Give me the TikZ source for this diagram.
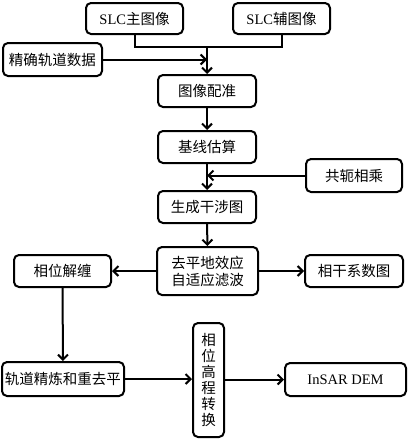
\documentclass[tikz,border=0pt]{standalone}
\usepackage{fontspec}
\setmainfont{Liberation Serif}
\newfontfamily\cjk{Noto Sans CJK SC}
\usetikzlibrary{arrows.meta}
\begin{document}
\begin{tikzpicture}[x=1pt,y=-1pt,
  box/.style={draw=black, line width=2pt, rounded corners=5pt, fill=white,
    inner sep=0pt, align=center, font=\fontsize{14.5}{17}\selectfont},
  arr/.style={line width=2pt, -{Straight Barb[length=5pt,width=10pt,line width=2pt]}},
  ln/.style={line width=2pt}]
\useasboundingbox[fill=white] (0,0) rectangle (407,439);
\node[box, minimum width=97pt, minimum height=31pt] (m) at (134.5,18.5) {SLC\cjk 主图像};
\node[box, minimum width=97pt, minimum height=31pt] (s) at (281.5,18.5) {SLC\cjk 辅图像};
\node[box, minimum width=99pt, minimum height=33pt] (orb) at (52.5,59.5) {\cjk 精确轨道数据};
\node[box, minimum width=98pt, minimum height=32pt] (reg) at (207,91) {\cjk 图像配准};
\node[box, minimum width=98pt, minimum height=32pt] (base) at (207,147) {\cjk 基线估算};
\node[box, minimum width=96pt, minimum height=33pt] (conj) at (354,175.5) {\cjk 共轭相乘};
\node[box, minimum width=98pt, minimum height=32pt] (ifg) at (207,207) {\cjk 生成干涉图};
\node[box, minimum width=101pt, minimum height=48pt] (flat) at (207.5,271) {\cjk 去平地效应\\\cjk 自适应滤波};
\node[box, minimum width=97pt, minimum height=32pt] (unw) at (62.5,271) {\cjk 相位解缠};
\node[box, minimum width=98pt, minimum height=32pt] (coh) at (354,271) {\cjk 相干系数图};
\node[box, minimum width=122pt, minimum height=34pt] (ref) at (63,379) {\cjk 轨道精炼和重去平};
\node[box, minimum width=31pt, minimum height=114pt, font=\fontsize{14.5}{16}\selectfont] (conv) at (208.5,380) {\cjk 相\\\cjk 位\\\cjk 高\\\cjk 程\\\cjk 转\\\cjk 换};
\node[box, minimum width=121pt, minimum height=33pt] (dem) at (345.5,379.5) {InSAR DEM};
\coordinate (j) at (207,47);
\draw[ln] (m.south) |- (j) -| (s.south);
\draw[arr] (j) -- (reg.north);
\draw[arr] (orb.east) -- (reg.north |- orb.east);
\draw[arr] (reg.south) -- (base.north);
\draw[arr] (conj.west) -- (base.south |- conj.west);
\draw[arr] (base.south) -- (ifg.north);
\draw[arr] (ifg.south) -- (flat.north);
\draw[arr] (flat.west) -- (unw.east);
\draw[arr] (flat.east) -- (coh.west);
\draw[arr] (unw.south) -- (ref.north);
\draw[arr] (ref.east) -- (conv.west |- ref.east);
\draw[arr] (conv.east |- dem.west) -- (dem.west);
\end{tikzpicture}
\end{document}
